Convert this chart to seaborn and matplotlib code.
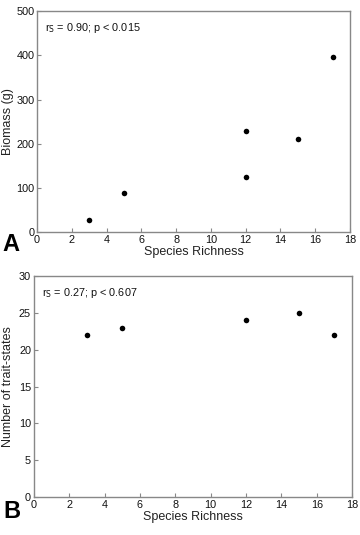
import matplotlib
matplotlib.use("Agg")
import matplotlib.pyplot as plt
import seaborn as sns
import pandas as pd

sns.set_theme(style="white")
plt.rcParams["font.family"] = ["Liberation Sans", "DejaVu Sans"]

# Panel A: biomass vs species richness
richness_a = [3, 5, 12, 12, 15, 17]
biomass = [27, 89, 228, 125, 212, 396]

# Panel B: number of trait-states vs species richness
richness_b = [3, 5, 12, 15, 17]
trait_states = [22, 23, 24, 25, 22]

df_a = pd.DataFrame({"Species Richness": richness_a, "Biomass (g)": biomass})
df_b = pd.DataFrame({"Species Richness": richness_b, "Number of trait-states": trait_states})

fig = plt.figure(figsize=(3.6, 5.35), dpi=100)
ax_a = fig.add_axes([0.103, 0.566, 0.869, 0.413])
ax_b = fig.add_axes([0.094, 0.071, 0.884, 0.413])


def style(ax, ylim, yticks, ylabel, note, letter, label_x, letter_y):
    ax.set_xlim(0, 18)
    ax.set_ylim(*ylim)
    ax.set_xticks(range(0, 19, 2))
    ax.set_yticks(yticks)
    ax.tick_params(direction="in", length=3, width=0.8, color="#888888",
                   labelsize=7.8, labelcolor="#111111", pad=2,
                   bottom=True, left=True)
    for s in ax.spines.values():
        s.set_color("#888888")
        s.set_linewidth(1.0)
    ax.set_xlabel("Species Richness", fontsize=9, labelpad=1, color="#222222")
    ax.set_ylabel(ylabel, fontsize=9, color="#222222")
    ax.yaxis.set_label_coords(label_x, 0.5)
    ax.text(0.026, 0.955, note, transform=ax.transAxes, fontsize=7.8,
            va="top", ha="left", color="#111111")
    fig.text(0.008, letter_y, letter, fontsize=17, fontweight="bold",
             va="center", ha="left", color="black")


sns.scatterplot(data=df_a, x="Species Richness", y="Biomass (g)", ax=ax_a,
                color="black", s=16, edgecolor="black", linewidth=0)
style(ax_a, (0, 500), range(0, 501, 100), "Biomass (g)",
      r"r$_\mathrm{S}$ = 0.90; p < 0.015", "A", -0.073, 1 - 245 / 535)

sns.scatterplot(data=df_b, x="Species Richness", y="Number of trait-states", ax=ax_b,
                color="black", s=16, edgecolor="black", linewidth=0)
style(ax_b, (0, 30), range(0, 31, 5), "Number of trait-states",
      r"r$_\mathrm{S}$ = 0.27; p < 0.607", "B", -0.063, 1 - 511 / 535)

plt.savefig("out.png", dpi=100)
